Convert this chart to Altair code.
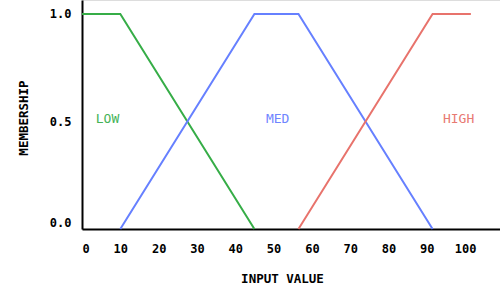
import altair as alt
import pandas as pd

series_names = ["LOW", "MED", "HIGH"]
low_x = [0, 10, 45]
low_y = [1, 1, 0]
med_x = [10, 45, 56.5, 91.5]
med_y = [0, 1, 1, 0]
high_x = [56.5, 91.5, 101.5]
high_y = [0, 1, 1]
label_x = [3.6, 48, 94.2]
label_y = [0.51, 0.51, 0.51]
line_colors = ["#36ad47", "#6680ff", "#e8736c"]
text_colors = ["#45b357", "#6f86ff", "#e87a72"]
x_ticks = [0, 10, 20, 30, 40, 50, 60, 70, 80, 90, 100]
y_ticks = [0, 0.5, 1.0]

rows = []
for name, xs, ys in zip(series_names, [low_x, med_x, high_x], [low_y, med_y, high_y]):
    for i, (xv, yv) in enumerate(zip(xs, ys)):
        rows.append({"set": name, "x": xv, "y": yv, "i": i})
df = pd.DataFrame(rows)
labels = pd.DataFrame({"set": series_names, "x": label_x, "y": label_y})

FONT = "DejaVu Sans Mono"
xscale = alt.Scale(domain=[0, 109.1], nice=False, zero=False)
yscale = alt.Scale(domain=[0, 1.065], nice=False)

xaxis = alt.Axis(
    title="INPUT VALUE", values=x_ticks, ticks=False, grid=False,
    domainColor="black", domainWidth=2, labelPadding=14,
    labelFont=FONT, labelFontSize=12, labelFontWeight="bold", labelColor="black",
    titleFont=FONT, titleFontSize=12.5, titleFontWeight="bold", titleColor="black",
    titleX=200, titleY=49, titleBaseline="middle", titleAlign="center",
)
yaxis = alt.Axis(
    title="MEMBERSHIP", values=y_ticks, format=".1f", ticks=False, grid=False,
    domainColor="black", domainWidth=2, labelPadding=11, labelFlush=True,
    labelFont=FONT, labelFontSize=12, labelFontWeight="bold", labelColor="black",
    titleFont=FONT, titleFontSize=12.5, titleFontWeight="bold", titleColor="black",
    titleX=-58.5, titleY=117.5, titleAngle=-90, titleBaseline="middle", titleAlign="center",
)

lines = alt.Chart(df).mark_line(strokeWidth=2).encode(
    x=alt.X("x:Q", scale=xscale, axis=xaxis),
    y=alt.Y("y:Q", scale=yscale, axis=yaxis),
    color=alt.Color("set:N", scale=alt.Scale(domain=series_names, range=line_colors), legend=None),
    order="i:Q",
    detail="set:N",
)

texts = alt.Chart(labels).mark_text(align="left", baseline="middle", font=FONT, fontSize=13).encode(
    x=alt.X("x:Q", scale=xscale),
    y=alt.Y("y:Q", scale=yscale),
    text="set:N",
    color=alt.Color("set:N", scale=alt.Scale(domain=series_names, range=text_colors), legend=None),
)

chart = alt.layer(lines, texts).resolve_scale(color="independent").properties(
    width=418, height=229,
    autosize=alt.AutoSizeParams(type="none"),
    padding={"left": 82, "top": 0, "right": 0, "bottom": 71},
).configure_view(stroke=None).configure(background="white")

chart.save("out.html", embed_options={"renderer": "svg", "actions": False})
